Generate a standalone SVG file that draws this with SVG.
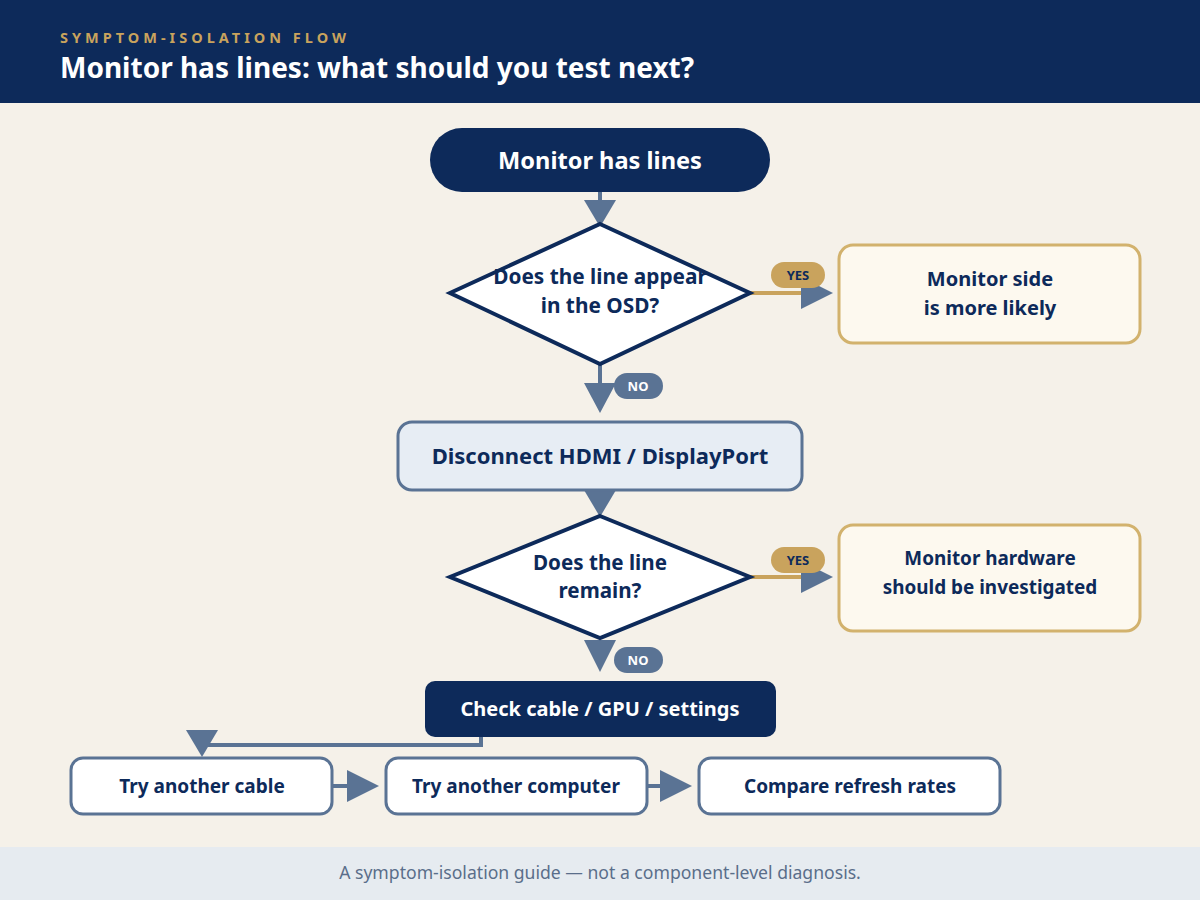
<svg xmlns="http://www.w3.org/2000/svg" width="1200" height="900" viewBox="0 0 1200 900">
<style>
.t{font-family:"Noto Sans","Open Sans","Liberation Sans",sans-serif;font-weight:700;text-anchor:middle}
.navy{fill:#0d2a5a}
.white{fill:#ffffff}
.dia{fill:#ffffff;stroke:#0d2a5a;stroke-width:4;stroke-linejoin:miter}
.res{fill:#fdf9ef;stroke:#d2b26d;stroke-width:3}
.step{fill:#ffffff;stroke:#5a7394;stroke-width:3}
.ln{stroke:#5a7394;stroke-width:4;fill:none}
.gl{stroke:#c9a35d;stroke-width:4;fill:none}
.hd{fill:#5a7394}
</style>
<rect x="0" y="0" width="1200" height="900" fill="#f5f1e9"/>
<g id="header">
<rect x="0" y="0" width="1200" height="103" fill="#0d2a5a"/>
<text x="60" y="43" font-family="Noto Sans,Open Sans,Liberation Sans,sans-serif" font-weight="700" font-size="14.5" letter-spacing="4" fill="#c9a35d">SYMPTOM-ISOLATION FLOW</text>
<text x="60" y="78" font-family="Noto Sans,Open Sans,Liberation Sans,sans-serif" font-weight="700" font-size="28" fill="#ffffff">Monitor has lines: what should you test next?</text>
</g>
<g id="footer">
<rect x="0" y="847" width="1200" height="53" fill="#e6ebf0"/>
<text x="600" y="879" font-family="Noto Sans,Open Sans,Liberation Sans,sans-serif" font-size="17.6" fill="#5a6e8a" text-anchor="middle">A symptom-isolation guide — not a component-level diagnosis.</text>
</g>
<g id="connectors">
<line class="ln" x1="600" y1="192" x2="600" y2="205"/>
<polygon class="hd" points="584,200 616,200 600,227"/>
<line class="gl" x1="750" y1="293" x2="805" y2="293"/>
<polygon class="hd" points="801,277 833,293 801,309"/>
<line class="ln" x1="600" y1="364" x2="600" y2="390"/>
<polygon class="hd" points="584,383 616,383 600,413"/>
<polygon class="hd" points="584,490 616,490 600,517"/>
<line class="gl" x1="750" y1="577" x2="805" y2="577"/>
<polygon class="hd" points="801,561 833,577 801,593"/>
<polygon class="hd" points="584,640 616,640 600,672"/>
<polyline class="ln" points="481,737 481,745 201,745 201,740"/>
<polygon class="hd" points="186,730 218,730 202,757"/>
<line class="ln" x1="332" y1="786" x2="352" y2="786"/>
<polygon class="hd" points="347,770 379,786 347,802"/>
<line class="ln" x1="647" y1="786" x2="665" y2="786"/>
<polygon class="hd" points="660,770 692,786 660,802"/>
<g id="lbl-yes1"><rect x="771" y="262" width="54" height="26" rx="13" fill="#c9a35d"/><text class="t navy" x="798" y="280" font-size="13">YES</text></g>
<g id="lbl-no1"><rect x="614" y="373" width="49" height="26" rx="13" fill="#5a7394"/><text class="t white" x="638" y="391" font-size="13">NO</text></g>
<g id="lbl-yes2"><rect x="771" y="547" width="54" height="26" rx="13" fill="#c9a35d"/><text class="t navy" x="798" y="565" font-size="13">YES</text></g>
<g id="lbl-no2"><rect x="614" y="647" width="49" height="26" rx="13" fill="#5a7394"/><text class="t white" x="638" y="665" font-size="13">NO</text></g>
</g>
<g id="start">
<rect x="430" y="128" width="340" height="64" rx="32" fill="#0d2a5a"/>
<text class="t white" x="600" y="169" font-size="23.6">Monitor has lines</text>
</g>
<g id="q1">
<polygon class="dia" points="600,224 750,293 600,364 450,293"/>
<text class="t navy" x="600" y="284" font-size="20.8">Does the line appear</text>
<text class="t navy" x="600" y="313" font-size="20.8">in the OSD?</text>
</g>
<g id="r1">
<rect class="res" x="839" y="245" width="301" height="98" rx="14"/>
<text class="t navy" x="990" y="286" font-size="20">Monitor side</text>
<text class="t navy" x="990" y="315" font-size="20">is more likely</text>
</g>
<g id="disconnect">
<rect x="398" y="422" width="404" height="68" rx="14" fill="#e7edf4" stroke="#5a7394" stroke-width="3"/>
<text class="t navy" x="600" y="464" font-size="22">Disconnect HDMI / DisplayPort</text>
</g>
<g id="q2">
<polygon class="dia" points="600,516 750,577 600,638 450,577"/>
<text class="t navy" x="600" y="570" font-size="20.6">Does the line</text>
<text class="t navy" x="600" y="598" font-size="20.6">remain?</text>
</g>
<g id="r2">
<rect class="res" x="839" y="525" width="301" height="106" rx="14"/>
<text class="t navy" x="990" y="565" font-size="18.9">Monitor hardware</text>
<text class="t navy" x="990" y="594" font-size="18.9">should be investigated</text>
</g>
<g id="check">
<rect x="425" y="681" width="351" height="56" rx="10" fill="#0d2a5a"/>
<text class="t white" x="600" y="716" font-size="20">Check cable / GPU / settings</text>
</g>
<g id="cable">
<rect class="step" x="71" y="758" width="261" height="56" rx="12"/>
<text class="t navy" x="202" y="793" font-size="19">Try another cable</text>
</g>
<g id="computer">
<rect class="step" x="386" y="758" width="261" height="56" rx="12"/>
<text class="t navy" x="516" y="793" font-size="19">Try another computer</text>
</g>
<g id="refresh">
<rect class="step" x="699" y="758" width="301" height="56" rx="12"/>
<text class="t navy" x="850" y="793" font-size="19">Compare refresh rates</text>
</g>
</svg>
